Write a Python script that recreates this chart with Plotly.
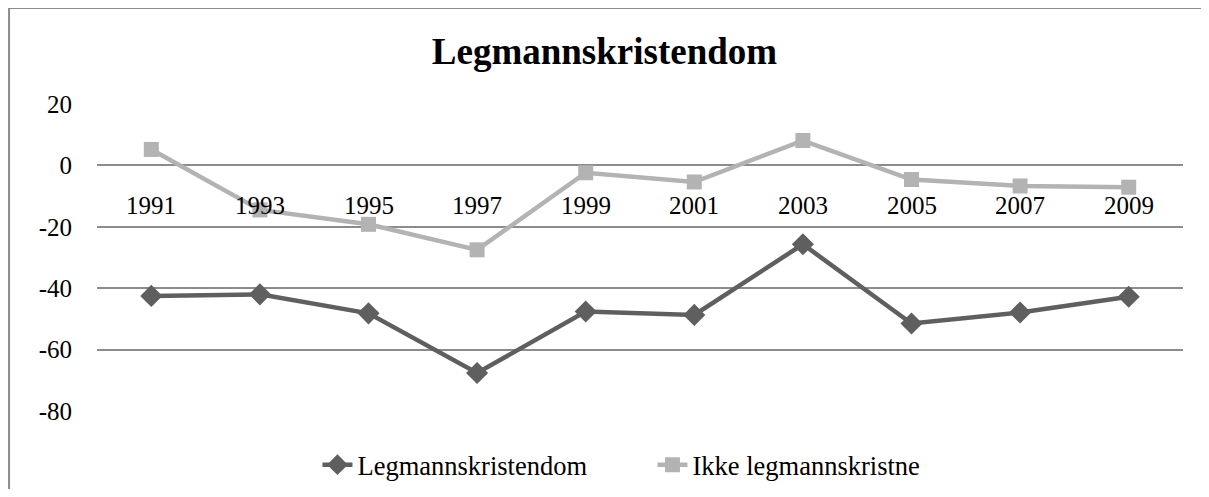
import plotly.graph_objects as go

years = ["1991", "1993", "1995", "1997", "1999", "2001", "2003", "2005", "2007", "2009"]
legmann = [-42.5, -42.0, -48.2, -67.6, -47.6, -48.7, -25.7, -51.5, -47.9, -42.8]
ikke = [5.2, -14.5, -19.2, -27.5, -2.4, -5.4, 8.1, -4.6, -6.7, -7.1]
y_ticks = [20, 0, -20, -40, -60, -80]

FONT = "Liberation Serif, Times New Roman, serif"
DARK = "#5f5f5f"
LIGHT = "#b3b3b3"

fig = go.Figure()
fig.add_trace(go.Scatter(
    x=years, y=legmann, name="Legmannskristendom", mode="lines+markers",
    line=dict(color=DARK, width=4.5),
    marker=dict(symbol="diamond", size=17, color=DARK),
))
fig.add_trace(go.Scatter(
    x=years, y=ikke, name="Ikke legmannskristne", mode="lines+markers",
    line=dict(color=LIGHT, width=4.5),
    marker=dict(symbol="square", size=15, color=LIGHT),
))

# category labels sit just below the zero line (axis crosses at 0)
for i, yr in enumerate(years):
    fig.add_annotation(x=i, y=0, xref="x", yref="y", text=yr, showarrow=False,
                       yanchor="top", yshift=-25,
                       font=dict(family=FONT, size=25, color="black"))

# outer chart frame: only the left and top edges are visible in the reference
frame = dict(color="#8c8c8c", width=2)
fig.add_shape(type="line", xref="paper", yref="paper",
              x0=-0.081, x1=-0.081, y0=-0.3, y1=1.3127, line=frame, layer="below")
fig.add_shape(type="line", xref="paper", yref="paper",
              x0=-0.081, x1=1.05, y0=1.3127, y1=1.3127, line=frame, layer="below")

fig.update_layout(
    width=1193, height=481,
    margin=dict(l=89, r=18, t=96, b=78, autoexpand=False),
    paper_bgcolor="white", plot_bgcolor="white",
    title=dict(text="<b>Legmannskristendom</b>", x=0.5, xanchor="center",
               y=0.91, yanchor="middle",
               font=dict(family=FONT, size=37, color="black")),
    font=dict(family=FONT, size=25, color="black"),
    showlegend=True,
    legend=dict(orientation="h", xref="container", yref="container",
                x=0.2594, xanchor="left", y=0.05, yanchor="middle",
                font=dict(family=FONT, size=26.5, color="black"),
                entrywidth=290, entrywidthmode="pixels", traceorder="normal"),
    xaxis=dict(type="category", showticklabels=False, showgrid=False,
               zeroline=False, showline=False, ticks="",
               range=[-0.5, len(years) - 0.5]),
    yaxis=dict(range=[-80, 20], tickvals=y_ticks, ticktext=[str(v) for v in y_ticks],
               showgrid=True, gridcolor="#8c8c8c", gridwidth=2,
               zeroline=False, showline=False, ticks="",
               ticklabelstandoff=24,
               tickfont=dict(family=FONT, size=25, color="black")),
)

fig.write_html("out.html")
